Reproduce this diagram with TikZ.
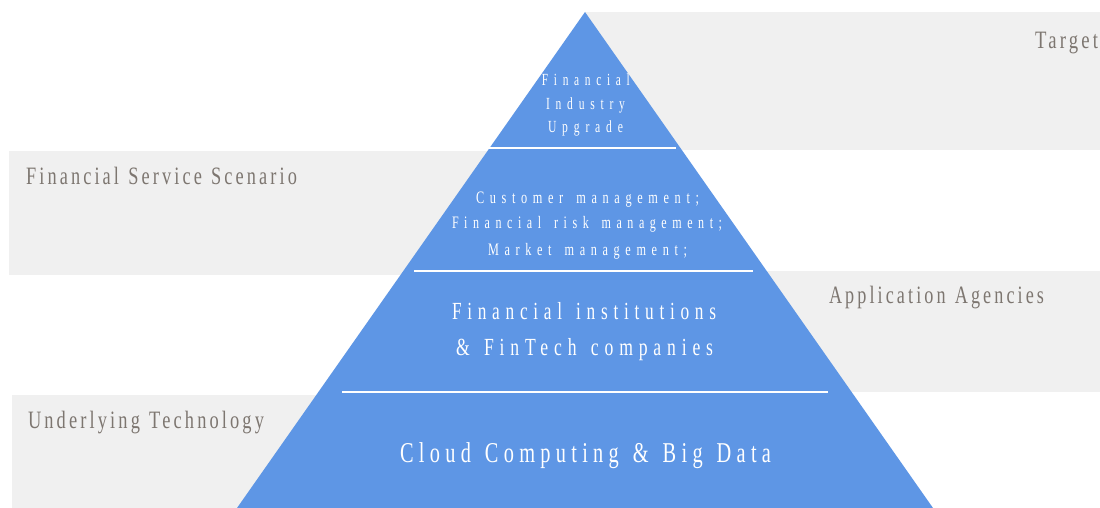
\documentclass[tikz,border=0pt]{standalone}
\usepackage{fontspec}
\usepackage{graphicx}
\setmainfont{Liberation Serif}
\newfontfamily\sidefnt[LetterSpace=17,WordSpace=1.2]{Liberation Serif}
\newfontfamily\topfnt[LetterSpace=50]{Liberation Serif}
\newfontfamily\custfnt[LetterSpace=46,WordSpace=1.5]{Liberation Serif}
\newfontfamily\instfnt[LetterSpace=33,WordSpace=1.4]{Liberation Serif}
\newfontfamily\cloudfnt[LetterSpace=26,WordSpace=1.35]{Liberation Serif}
\definecolor{pyr}{RGB}{94,150,229}
\definecolor{bandc}{RGB}{240,240,240}
\definecolor{lab}{RGB}{125,118,112}
\newcommand{\fitw}[2]{\resizebox{#1pt}{\height}{#2}}
\begin{document}
\begin{tikzpicture}[x=1pt,y=-1pt,
  sidelbl/.style={inner sep=0pt, anchor=base, text=lab, font=\sidefnt\fontsize{25}{25}\selectfont},
  toplbl/.style={inner sep=0pt, anchor=base, text=white, font=\topfnt\fontsize{17}{17}\selectfont},
  custlbl/.style={inner sep=0pt, anchor=base, text=white, font=\custfnt\fontsize{17.5}{17.5}\selectfont},
  instlbl/.style={inner sep=0pt, anchor=base, text=white, font=\instfnt\fontsize{24.6}{24.6}\selectfont},
  cloudlbl/.style={inner sep=0pt, anchor=base, text=white, font=\cloudfnt\fontsize{28.7}{28.7}\selectfont},
  bandbox/.style={fill=bandc, draw=none},
  sepline/.style={draw=white, line width=1.8pt}]
\useasboundingbox (0,0) rectangle (1100,508);
\fill[white] (0,0) rectangle (1100,508);
% bands
\fill[bandbox] (585,12) rectangle (1100,150);
\fill[bandbox] (9,151) rectangle (585,275);
\fill[bandbox] (585,271) rectangle (1100,392);
\fill[bandbox] (12,395) rectangle (585,508);
% pyramid
\fill[pyr] (585,12) -- (237,508) -- (933,508) -- cycle;
\coordinate (s1a) at (488,148); \coordinate (s1b) at (676,148);
\coordinate (s2a) at (414,271); \coordinate (s2b) at (753,271);
\coordinate (s3a) at (342,392); \coordinate (s3b) at (828,392);
\draw[sepline] (s1a) -- (s1b);
\draw[sepline] (s2a) -- (s2b);
\draw[sepline] (s3a) -- (s3b);
% side labels
\node[sidelbl] (target) at (1066.5,49) {\fitw{63}{Target}};
\node[sidelbl] (fss) at (161.5,185) {\fitw{271}{Financial Service Scenario}};
\node[sidelbl] (aa) at (936.5,303) {\fitw{215}{Application Agencies}};
\node[sidelbl] (ut) at (146,428.5) {\fitw{236}{Underlying Technology}};
% pyramid labels
\node[toplbl] (t1) at (585.9,85.7) {\fitw{88}{Financial}};
\node[toplbl] (t2) at (585.5,109.3) {\fitw{79}{Industry}};
\node[toplbl] (t3) at (585.5,132.7) {\fitw{75}{Upgrade}};
\node[custlbl] (c1) at (587.5,203.3) {\fitw{223}{Customer management;}};
\node[custlbl] (c2) at (587,228.3) {\fitw{270}{Financial risk management;}};
\node[custlbl] (c3) at (587.5,255) {\fitw{199}{Market management;}};
\node[instlbl] (i1) at (584,319) {\fitw{264}{Financial institutions}};
\node[instlbl] (i2) at (584.5,355) {\fitw{257}{\& FinTech companies}};
\node[cloudlbl] (cl) at (585.5,462.7) {\fitw{371}{Cloud Computing \& Big Data}};
\end{tikzpicture}
\end{document}
